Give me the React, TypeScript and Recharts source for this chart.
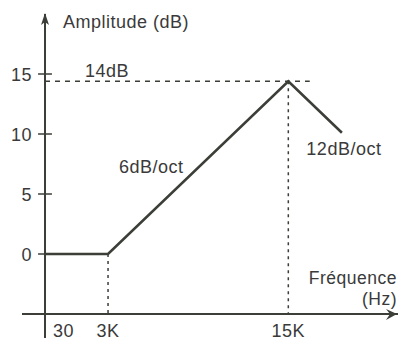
import { LineChart, Line, XAxis, YAxis, ReferenceLine, ReferenceDot } from 'recharts'

// positions along the drawn frequency axis (not to scale in Hz)
const freqLabels = ['30', '3K', '15K']
const freqPos = [0, 1, 3.86]

const curveX = [0, 1, 3.86, 4.71]
const curveDb = [0, 0, 14.4, 10.1]

const dbTicks = [0, 5, 10, 15]
const peakLabel = '14dB'
const slopeLabels = ['6dB/oct', '12dB/oct']

const X_MIN = -0.365
const X_MAX = 5.6
const Y_MIN = -7
const Y_MAX = 20
const AXIS_Y = -5

const ink = '#3b3f37'
const textColor = '#3a3a3a'
const font = '"Liberation Sans", Arial, sans-serif'

const data = curveX.map((x, i) => ({ x, db: curveDb[i] }))

function label(text: string, dx: number, dy: number, anchor: 'start' | 'middle' | 'end' = 'start', size = 18) {
  return (p: any) => (
    <text
      x={p.cx + dx}
      y={p.cy + dy}
      textAnchor={anchor}
      fill={textColor}
      fontFamily={font}
      fontSize={size}
      letterSpacing={0.5}
    >
      {text}
    </text>
  )
}

const upArrow = (p: any) => (
  <polygon
    points={`${p.cx},${p.cy - 1} ${p.cx + 4},${p.cy + 11} ${p.cx},${p.cy + 8} ${p.cx - 4},${p.cy + 11}`}
    fill={ink}
  />
)

const rightArrow = (p: any) => (
  <polygon
    points={`${p.cx - 1},${p.cy} ${p.cx - 12},${p.cy - 5} ${p.cx - 8},${p.cy} ${p.cx - 12},${p.cy + 6}`}
    fill={ink}
  />
)

export default function App() {
  const peakDb = curveDb[2]
  const endX = curveX[3]
  const endDb = curveDb[3]

  return (
    <div style={{ position: 'absolute', left: 0, top: 0, background: '#fff' }}>
      <LineChart
        width={402}
        height={345}
        data={data}
        margin={{ top: 14, right: 4, bottom: 7, left: 22 }}
      >
        <XAxis dataKey="x" type="number" domain={[X_MIN, X_MAX]} allowDataOverflow hide />
        <YAxis type="number" domain={[Y_MIN, Y_MAX]} allowDataOverflow hide />

        {/* axes */}
        <ReferenceLine x={0} stroke={ink} strokeWidth={2} />
        <ReferenceLine y={AXIS_Y} stroke={ink} strokeWidth={2} />
        <ReferenceDot x={0} y={Y_MAX} r={0} shape={upArrow} ifOverflow="visible" />
        <ReferenceDot x={X_MAX} y={AXIS_Y} r={0} shape={rightArrow} ifOverflow="visible" />

        {/* y ticks */}
        {dbTicks.map((v) => (
          <ReferenceLine
            key={'t' + v}
            segment={[{ x: -0.11, y: v }, { x: 0.11, y: v }]}
            stroke={ink}
            strokeWidth={1.5}
            ifOverflow="visible"
          />
        ))}
        {dbTicks.map((v) => (
          <ReferenceDot
            key={'l' + v}
            x={0}
            y={v}
            r={0}
            shape={label(String(v), -13, 6.5, 'end')}
            ifOverflow="visible"
          />
        ))}

        {/* guide lines */}
        <ReferenceLine
          segment={[{ x: 0, y: peakDb }, { x: 4.2, y: peakDb }]}
          stroke={ink}
          strokeWidth={1.5}
          strokeDasharray="5 5"
        />
        <ReferenceLine
          segment={[{ x: freqPos[1], y: 0 }, { x: freqPos[1], y: AXIS_Y }]}
          stroke={ink}
          strokeWidth={1.5}
          strokeDasharray="3 4"
        />
        <ReferenceLine
          segment={[{ x: freqPos[2], y: peakDb }, { x: freqPos[2], y: AXIS_Y }]}
          stroke={ink}
          strokeWidth={1.5}
          strokeDasharray="3 4"
        />

        <Line
          type="linear"
          dataKey="db"
          stroke={ink}
          strokeWidth={2.6}
          dot={false}
          isAnimationActive={false}
        />

        {/* x tick labels */}
        <ReferenceDot x={freqPos[0]} y={AXIS_Y} r={0} shape={label(freqLabels[0], 8, 23)} ifOverflow="visible" />
        <ReferenceDot x={freqPos[1]} y={AXIS_Y} r={0} shape={label(freqLabels[1], 0, 23, 'middle')} ifOverflow="visible" />
        <ReferenceDot x={freqPos[2]} y={AXIS_Y} r={0} shape={label(freqLabels[2], 0, 23, 'middle')} ifOverflow="visible" />

        {/* annotations */}
        <ReferenceDot x={0} y={Y_MAX} r={0} shape={label('Amplitude (dB)', 18, 14)} ifOverflow="visible" />
        <ReferenceDot x={0} y={peakDb} r={0} shape={label(peakLabel, 40, -4)} ifOverflow="visible" />
        <ReferenceDot x={freqPos[1]} y={0} r={0} shape={label(slopeLabels[0], 11, -81)} ifOverflow="visible" />
        <ReferenceDot x={endX} y={endDb} r={0} shape={label(slopeLabels[1], 2, 22, 'middle')} ifOverflow="visible" />
        <ReferenceDot x={X_MAX} y={AXIS_Y} r={0} shape={label('Fréquence', -1, -30, 'end', 17.5)} ifOverflow="visible" />
        <ReferenceDot x={X_MAX} y={AXIS_Y} r={0} shape={label('(Hz)', -1, -9, 'end', 17.5)} ifOverflow="visible" />
      </LineChart>
    </div>
  )
}
